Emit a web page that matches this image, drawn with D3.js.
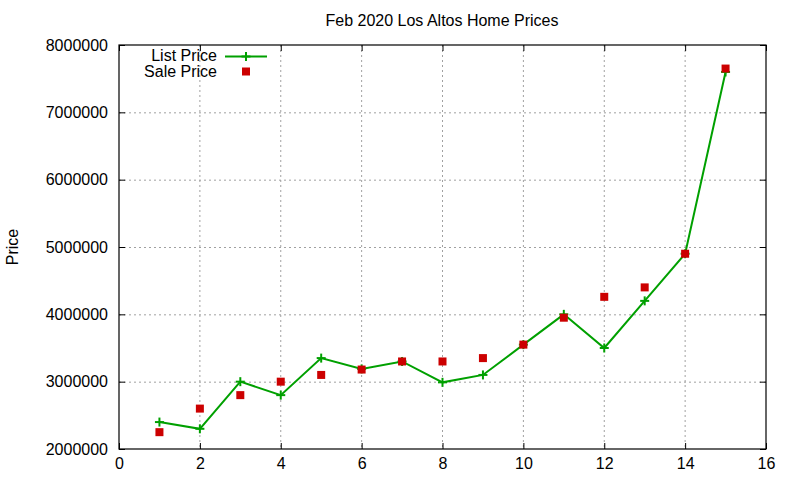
<!DOCTYPE html>
<html><head><meta charset="utf-8">
<script src="https://cdn.jsdelivr.net/npm/d3@7"></script>
<style>body{margin:0;background:#fff}svg{display:block}text{font-family:"Liberation Sans",Arial,sans-serif;fill:#000}</style>
</head><body>
<svg id="c" width="800" height="480"></svg>
<script>
const months = [1,2,3,4,5,6,7,8,9,10,11,12,13,14,15];
const listPrice = [2400000,2300000,3000000,2800000,3350000,3190000,3300000,2990000,3100000,3550000,4000000,3500000,4200000,4900000,7600000];
const salePrice = [2250000,2600000,2800000,3000000,3100000,3180000,3300000,3300000,3350000,3550000,3950000,4260000,4400000,4900000,7650000];
const xTicks = [0,2,4,6,8,10,12,14,16];
const yTicks = [2000000,3000000,4000000,5000000,6000000,7000000,8000000];
const title = "Feb 2020 Los Altos Home Prices";
const yLabel = "Price";
const seriesNames = ["List Price","Sale Price"];

const L=119,R=766,T=45,B=449;
const svg=d3.select("#c");
const x=d3.scaleLinear().domain([0,16]).range([L,R]);
const y=d3.scaleLinear().domain([2000000,8000000]).range([B,T]);

// grid
const g=svg.append("g");
g.selectAll(".gx").data(xTicks.filter(d=>d>0&&d<16)).join("line")
 .attr("x1",d=>x(d)).attr("x2",d=>x(d)).attr("y1",T).attr("y2",B)
 .attr("stroke","#a0a0a0").attr("stroke-dasharray","2,3").attr("stroke-width",1);
g.selectAll(".gy").data(yTicks.filter(d=>d>2000000&&d<8000000)).join("line")
 .attr("y1",d=>y(d)+0.5).attr("y2",d=>y(d)+0.5).attr("x1",L).attr("x2",R)
 .attr("stroke","#a0a0a0").attr("stroke-dasharray","2,3").attr("stroke-width",1);

// axes
const fmt=d3.format("d");
const xa=svg.append("g").attr("transform",`translate(0,${B})`)
 .call(d3.axisBottom(x).tickValues(xTicks).tickFormat(fmt).tickSizeInner(-6).tickSizeOuter(0).tickPadding(9));
const xa2=svg.append("g").attr("transform",`translate(0,${T})`)
 .call(d3.axisTop(x).tickValues(xTicks).tickFormat("").tickSizeInner(-6).tickSizeOuter(0));
const ya=svg.append("g").attr("transform",`translate(${L},0)`)
 .call(d3.axisLeft(y).tickValues(yTicks).tickFormat(fmt).tickSizeInner(-6).tickSizeOuter(0).tickPadding(11));
const ya2=svg.append("g").attr("transform",`translate(${R},0)`)
 .call(d3.axisRight(y).tickValues(yTicks).tickFormat("").tickSizeInner(-6).tickSizeOuter(0));
[xa,xa2,ya,ya2].forEach(a=>{a.select(".domain").remove();a.selectAll("line").attr("stroke","#000");
 a.selectAll("text").attr("font-size",16).attr("font-family","Liberation Sans, Arial, sans-serif").attr("fill","#000");});
svg.append("rect").attr("x",L).attr("y",T).attr("width",R-L).attr("height",B-T)
 .attr("fill","none").attr("stroke","#000").attr("stroke-width",1.2);

// series
const green="#00a000", red="#cc0000";
const data=months.map((m,i)=>({m,l:listPrice[i],s:salePrice[i]}));
svg.append("path").datum(data).attr("fill","none").attr("stroke",green).attr("stroke-width",2)
 .attr("d",d3.line().x(d=>x(d.m)).y(d=>y(d.l)));
const plus=(sel)=>sel.each(function(d){
  const gg=d3.select(this);
  gg.append("line").attr("x1",-4.5).attr("x2",4.5).attr("y1",0).attr("y2",0);
  gg.append("line").attr("x1",0).attr("x2",0).attr("y1",-4.5).attr("y2",4.5);
});
svg.append("g").selectAll("g").data(data).join("g")
 .attr("transform",d=>`translate(${x(d.m)},${y(d.l)})`).attr("stroke",green).attr("stroke-width",2).call(plus);
svg.append("g").selectAll("rect").data(data).join("rect")
 .attr("x",d=>x(d.m)-4).attr("y",d=>y(d.s)-4).attr("width",8).attr("height",8).attr("fill",red);

// legend
svg.append("text").attr("x",217).attr("y",61).attr("text-anchor","end").attr("font-size",16).text(seriesNames[0]);
svg.append("line").attr("x1",225).attr("x2",267).attr("y1",56.5).attr("y2",56.5).attr("stroke",green).attr("stroke-width",2);
svg.append("g").attr("transform","translate(246,56.5)").attr("stroke",green).attr("stroke-width",2).datum(0).call(plus);
svg.append("text").attr("x",217).attr("y",77).attr("text-anchor","end").attr("font-size",16).text(seriesNames[1]);
svg.append("rect").attr("x",242).attr("y",67.5).attr("width",8).attr("height",8).attr("fill",red);

// title & label
svg.append("text").attr("x",442).attr("y",26).attr("text-anchor","middle").attr("font-size",16).text(title);
svg.append("text").attr("transform","translate(18,247) rotate(-90)").attr("text-anchor","middle").attr("font-size",16).text(yLabel);
</script>
</body></html>
